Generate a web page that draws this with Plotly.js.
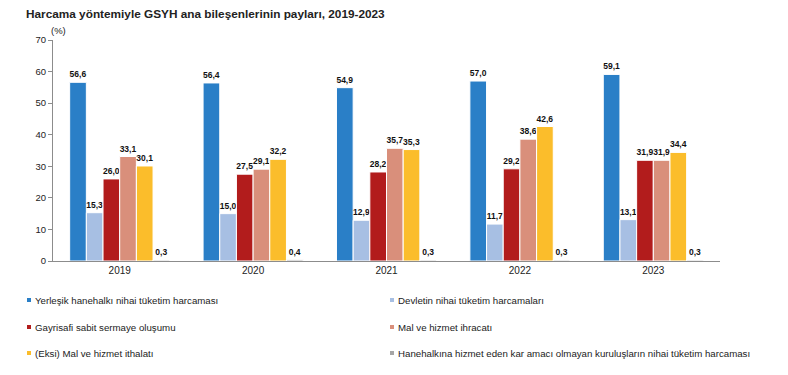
<!DOCTYPE html>
<html>
<head>
<meta charset="utf-8">
<script src="https://cdn.plot.ly/plotly-3.0.1.min.js"></script>
<style>html,body{margin:0;padding:0;background:#fff}#chart{width:788px;height:375px}</style>
</head>
<body>
<div id="chart"></div>
<script>
const years = ['2019', '2020', '2021', '2022', '2023'];
const seriesNames = [
  'Yerleşik hanehalkı nihai tüketim harcaması',
  'Devletin nihai tüketim harcamaları',
  'Gayrisafi sabit sermaye oluşumu',
  'Mal ve hizmet ihracatı',
  '(Eksi) Mal ve hizmet ithalatı',
  'Hanehalkına hizmet eden kar amacı olmayan kuruluşların nihai tüketim harcaması'
];
const hanehalki = [56.6, 56.4, 54.9, 57.0, 59.1];
const devlet = [15.3, 15.0, 12.9, 11.7, 13.1];
const gsso = [26.0, 27.5, 28.2, 29.2, 31.9];
const ihracat = [33.1, 29.1, 35.7, 38.6, 31.9];
const ithalat = [30.1, 32.2, 35.3, 42.6, 34.4];
const hhkoik = [0.3, 0.4, 0.3, 0.3, 0.3];
const seriesValues = [hanehalki, devlet, gsso, ihracat, ithalat, hhkoik];
const colors = ['#2A7FC7', '#A7BFE3', '#B21C1C', '#D98F7B', '#FBBD2B', '#A6A6A6'];
const yTicks = [0, 10, 20, 30, 40, 50, 60, 70];

const FONT = '"Liberation Sans", Arial, sans-serif';

const traces = seriesValues.map((vals, i) => ({
  type: 'bar',
  name: seriesNames[i],
  x: years,
  y: vals,
  marker: {color: colors[i], line: {color: '#ffffff', width: 1}},
  texttemplate: '<b>%{y:.1f}</b>',
  textposition: 'outside',
  constraintext: 'none',
  cliponaxis: false,
  textfont: {family: FONT, size: 8.5, color: '#111'},
  hoverinfo: 'none',
  showlegend: false
}));

const W = 788, H = 375;
const annotations = [{
  text: '(%)', xref: 'paper', yref: 'paper', x: 0, y: 1, xanchor: 'left', yanchor: 'bottom',
  xshift: -4, yshift: 2, showarrow: false, font: {family: FONT, size: 9.5, color: '#222'}
}];
const shapes = [];
const legRowY = [300, 327, 353];
const legColX = [29, 392];
seriesNames.forEach((name, i) => {
  const col = i % 2, row = Math.floor(i / 2);
  const cx = legColX[col], cy = legRowY[row];
  shapes.push({
    type: 'rect', xref: 'paper', yref: 'paper',
    xsizemode: 'pixel', ysizemode: 'pixel',
    xanchor: (cx - 53) / 667, yanchor: (375 - 114 - cy) / 221,
    x0: -2, x1: 2, y0: -2, y1: 2,
    fillcolor: colors[i], line: {width: 0}
  });
  annotations.push({
    text: name, xref: 'paper', yref: 'paper',
    x: (cx + 4 - 53) / 667, y: (375 - 114 - cy) / 221,
    xanchor: 'left', yanchor: 'middle', showarrow: false,
    font: {family: FONT, size: 9.7, color: '#222'}
  });
});

const layout = {
  width: W, height: H,
  margin: {l: 53, r: 68, t: 40, b: 114},
  paper_bgcolor: '#fff', plot_bgcolor: '#fff',
  separators: ',.',
  font: {family: FONT, color: '#222'},
  title: {
    text: '<b>Harcama yöntemiyle GSYH ana bileşenlerinin payları, 2019-2023</b>',
    x: 26 / W, xanchor: 'left', xref: 'container',
    y: 1 - 14 / H, yanchor: 'middle', yref: 'container',
    font: {family: FONT, size: 11.8, color: '#222'}
  },
  barmode: 'group',
  bargap: 0.25,
  bargroupgap: 0,
  xaxis: {
    type: 'category',
    showline: true, linecolor: '#8c8c8c', linewidth: 1,
    ticks: '', showgrid: false, zeroline: false,
    tickfont: {family: FONT, size: 10, color: '#222'}
  },
  yaxis: {
    range: [0, 70], tickvals: yTicks, ticktext: yTicks.map(String),
    showline: true, linecolor: '#8c8c8c', linewidth: 1,
    ticks: 'outside', ticklen: 4, tickcolor: '#8c8c8c',
    showgrid: false, zeroline: false,
    tickfont: {family: FONT, size: 9.5, color: '#222'}
  },
  annotations: annotations,
  shapes: shapes,
  showlegend: false
};

Plotly.newPlot('chart', traces, layout, {displayModeBar: false, staticPlot: true});
</script>
</body>
</html>
